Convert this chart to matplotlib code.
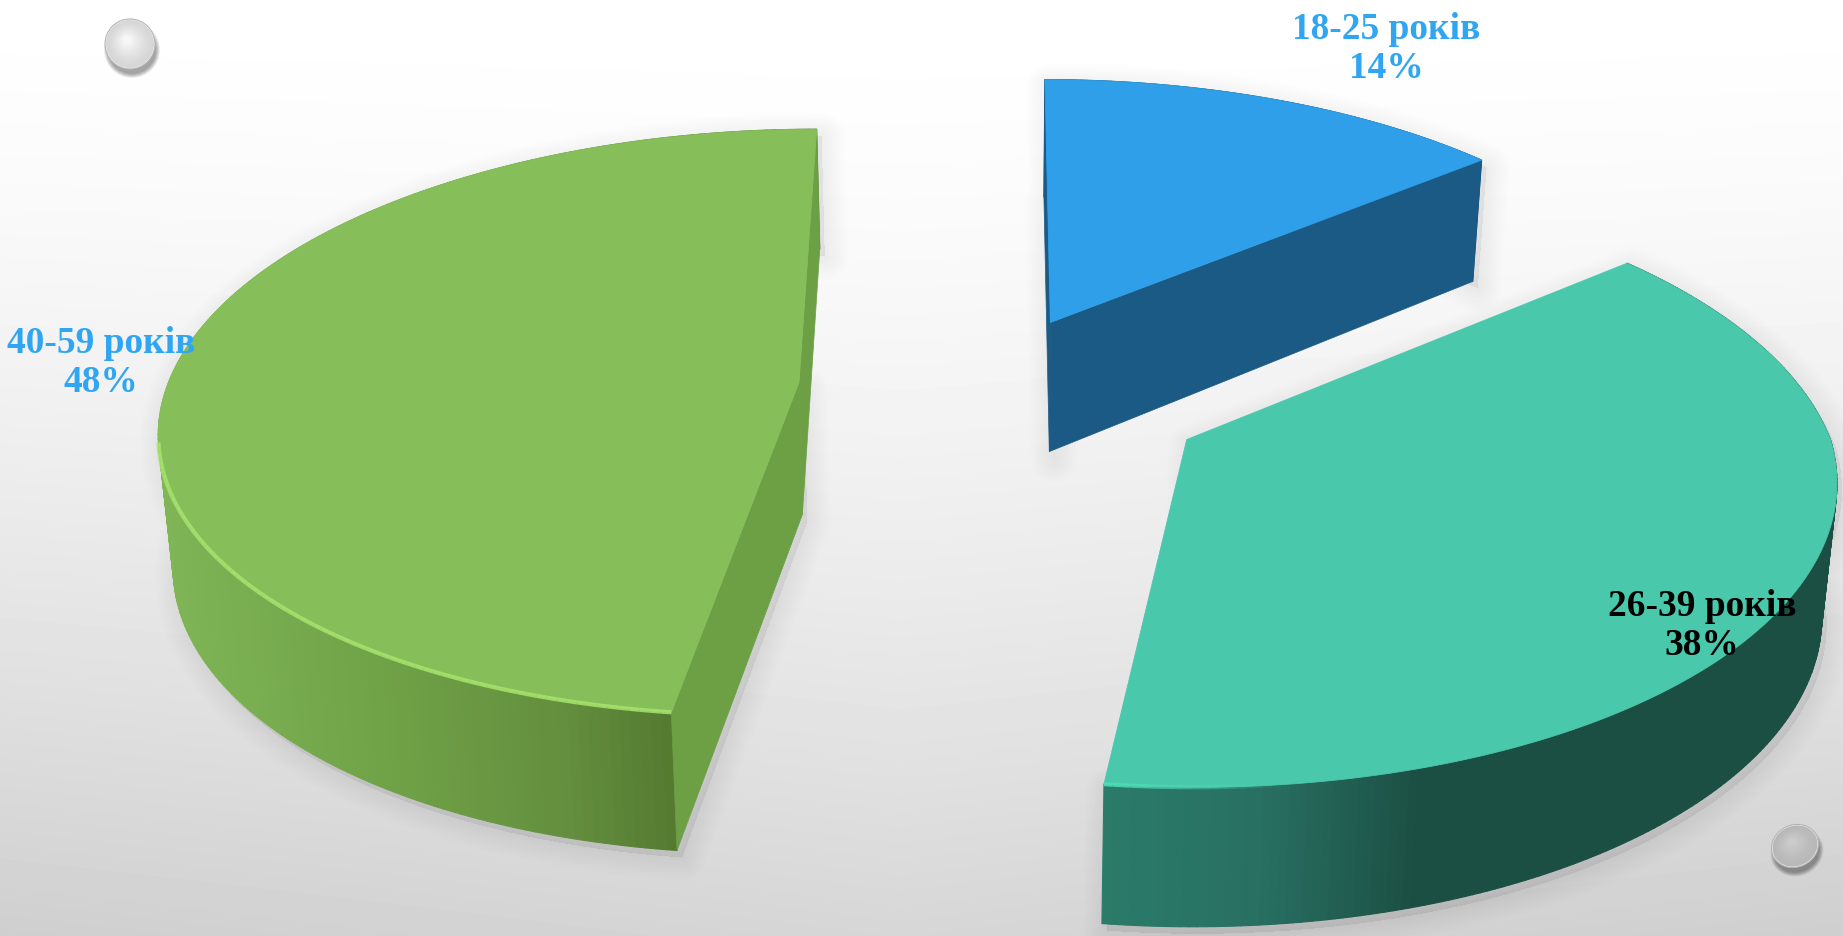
import numpy as np
import matplotlib
matplotlib.use("Agg")
import matplotlib.pyplot as plt
from matplotlib.patches import Polygon, Ellipse
from matplotlib.collections import PolyCollection, LineCollection
from matplotlib.colors import to_rgb

# ---- data
categories = ["18-25 років", "26-39 років", "40-59 років"]
percents = [14, 38, 48]

# ---- style
explode = [0.25, 0.355, 0.289]
top_colors = ["#2E9FE8", "#4AC8AC", "#86BF5A"]
face_colors = ["#1B5A85", "#1C4F44", "#6D9F45"]
show_faces = [True, False, True]
wall_stops = [
    [(1040, "#1B5A85"), (1500, "#1B5A85")],
    [(1105, "#2B7B69"), (1260, "#287062"), (1420, "#1C4F44"), (1850, "#1C4F44")],
    [(160, "#7FB556"), (420, "#6D9E45"), (560, "#648F3E"), (670, "#547A31")],
]
rim_colors = [None, "#4FDDB8", "#A8E46E"]
label_xy = [(1386, 49), (1702, 626), (101, 363)]
label_colors = ["#30A6F2", "#000000", "#30A6F2"]
FONT = "Liberation Serif"
W, H = 1843, 936

# ---- perspective of the pie plane (pixels)
CX, CY, HORIZON = 990, 382, 2733
SX, P, DEPTH, SHRINK = 640, 0.108, 132, 0.018
OX, OY = -0.01, -0.02
R, FAR_K, NEAR_K, SHEAR = 0.985, 0.04, 0.02, 0.02


def proj(x, y, z=0.0):
    x, y = np.asarray(x, float), np.asarray(y, float)
    w = 1 + P * y
    u = SX * x / w
    v = HORIZON / w - HORIZON
    d = DEPTH / np.where(w < 1, w ** 0.4, w)
    return np.column_stack([CX + u * (1 - SHRINK * z), CY + v + d * z])


def ramp(stops, x):
    xs = [s[0] for s in stops]
    rgb = np.array([to_rgb(s[1]) for s in stops])
    return np.column_stack([np.interp(x, xs, rgb[:, i]) for i in range(3)])


fig = plt.figure(figsize=(W / 100, H / 100), dpi=100)
ax = fig.add_axes([0, 0, 1, 1])
ax.set_xlim(0, W)
ax.set_ylim(H, 0)
ax.axis("off")

# ---- background
yy, xx = np.mgrid[0:H, 0:W]
fy = yy / H
bg = 1.0 - 0.16 * fy ** 1.5 - 0.03 * np.abs(xx - 900) / 900 * fy
ax.imshow(bg, cmap="gray", vmin=0, vmax=1, extent=(0, W, H, 0), aspect="auto", zorder=0)


def soft_shadow(pts, dx, dy, strength=0.005, zorder=1):
    off = pts + np.array([dx, dy])
    for lw in np.linspace(2, 34, 14):
        ax.add_patch(Polygon(off, closed=True, fc=(0, 0, 0, strength),
                             ec=(0, 0, 0, strength), lw=lw, joinstyle="round", zorder=zorder))


def sphere(cx, cy, rx, ry, angle, tone, top):
    for k in range(8):
        ax.add_patch(Ellipse((cx + 2, cy + 6), 2 * rx + 8 - k * 1.2, 2 * ry + 8 - k * 1.2, angle=angle,
                             fc=(0, 0, 0, 0.05), ec="none", zorder=2))
    ax.add_patch(Ellipse((cx, cy), 2 * rx + 2, 2 * ry + 2, angle=angle, fc="#F6F6F6", ec="#B4B4B4", lw=0.8, zorder=3))
    n = 24
    for k in range(n):
        t = k / (n - 1)
        g = tone + (top - tone) * t ** 1.4
        ax.add_patch(Ellipse((cx - 3 * t, cy - 4 * t), 2 * rx * (1 - 0.85 * t), 2 * ry * (1 - 0.85 * t),
                             angle=angle, fc=(g, g, g), ec="none", zorder=3))


sphere(130, 44, 24, 24, 0, 0.84, 0.97)
sphere(1795, 846, 23, 20, -25, 0.72, 0.80)

# ---- wedges
fracs = np.array(percents, float) / sum(percents)
edges = np.concatenate([[0], np.cumsum(fracs)]) * 2 * np.pi
for i in range(len(percents)):
    a0, a1 = edges[i], edges[i + 1]
    mid = (a0 + a1) / 2
    ox = OX + explode[i] * np.sin(mid)
    oy = OY + explode[i] * np.cos(mid)
    t = np.linspace(a0, a1, 200)
    c = np.cos(t)
    r = R * (1 - FAR_K * np.clip(c, 0, None) + NEAR_K * np.clip(-c, 0, None))
    ax_ = ox + r * np.sin(t) + SHEAR * r * np.clip(c, None, 0)
    ay_ = oy + r * c
    top_arc = proj(ax_, ay_)
    bot_arc = proj(ax_, ay_, 1)
    apex_t = proj([ox], [oy])
    apex_b = proj([ox], [oy], 1)

    soft_shadow(np.vstack([apex_t, top_arc, bot_arc[::-1], apex_b]), 5, 7)

    # outer wall
    quads = [np.vstack([top_arc[j], top_arc[j + 1], bot_arc[j + 1], bot_arc[j]]) for j in range(len(t) - 1)]
    cols = ramp(wall_stops[i], (top_arc[:-1, 0] + top_arc[1:, 0]) / 2)
    ax.add_collection(PolyCollection(quads, facecolors=cols, edgecolors=cols, linewidths=0.8, zorder=4))
    # radial faces
    if show_faces[i]:
        for e_t, e_b in ((top_arc[0], bot_arc[0]), (top_arc[-1], bot_arc[-1])):
            ax.add_patch(Polygon(np.vstack([apex_t, e_t, e_b, apex_b]), closed=True,
                                 fc=face_colors[i], ec=face_colors[i], lw=0.5, zorder=4))
    # top face
    ax.add_patch(Polygon(np.vstack([apex_t, top_arc]), closed=True, fc=top_colors[i],
                         ec=top_colors[i], lw=0.6, zorder=5))
    # bright rim along the lit lower edge, fading out away from the sharp corner
    if rim_colors[i]:
        rim_limit = CX + 300 if i == 1 else CX + 220
        pts = top_arc[(top_arc[:, 1] > CY + 60) & (top_arc[:, 0] < rim_limit)]
        segs = np.stack([pts[:-1], pts[1:]], axis=1)
        base = to_rgb(rim_colors[i])
        fade = np.linspace(0, 0.9, len(segs)) if i == 1 else np.full(len(segs), 0.85)
        seg_cols = [(*base, a) for a in fade]
        ax.add_collection(LineCollection(segs, colors=seg_cols, linewidths=3, capstyle="butt", zorder=6))

    ax.text(label_xy[i][0], label_xy[i][1], f"{categories[i]}\n{percents[i]}%", family=FONT, weight="bold",
            size=26.9, color=label_colors[i], ha="center", va="center", linespacing=1.13, zorder=10)

fig.savefig("out.png", dpi=100)
